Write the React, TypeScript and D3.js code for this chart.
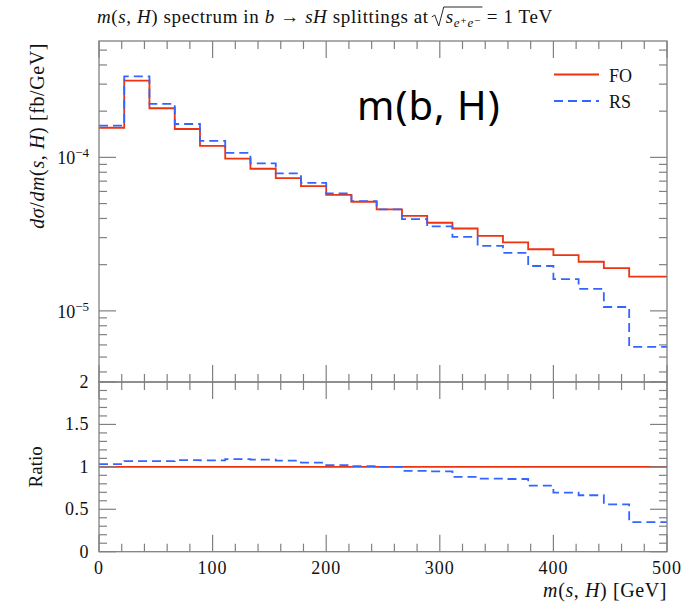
import React, { useLayoutEffect, useRef, useState } from 'react';
import * as d3 from 'd3';

// Histogram bin edges in m(s,H) [GeV]
const binEdges = [0, 22.2, 44.4, 66.7, 88.9, 111.1, 133.3, 155.6, 177.8, 200, 222.2, 244.4, 266.7, 288.9, 311.1, 333.3, 355.6, 377.8, 400, 422.2, 444.4, 466.7, 500];

// dσ/dm(s,H) [fb/GeV], fixed order
const foValues = [1.56e-4, 3.16e-4, 2.09e-4, 1.53e-4, 1.19e-4, 9.8e-5, 8.43e-5, 7.33e-5, 6.5e-5, 5.7e-5, 5.14e-5, 4.58e-5, 4.16e-5, 3.75e-5, 3.44e-5, 3.08e-5, 2.79e-5, 2.52e-5, 2.31e-5, 2.09e-5, 1.9e-5, 1.67e-5];

// dσ/dm(s,H) [fb/GeV], resummed
const rsValues = [1.61e-4, 3.37e-4, 2.23e-4, 1.65e-4, 1.28e-4, 1.07e-4, 9.14e-5, 7.86e-5, 6.83e-5, 5.82e-5, 5.19e-5, 4.58e-5, 3.96e-5, 3.55e-5, 3.03e-5, 2.65e-5, 2.39e-5, 1.96e-5, 1.61e-5, 1.39e-5, 1.06e-5, 5.82e-6];

const xMajorTicks = [0, 100, 200, 300, 400, 500];
const ratioMajorTicks = [0, 0.5, 1, 1.5, 2];
const ratioTickLabels = ['0', '0.5', '1', '1.5', '2'];
const logMajorLabels = [{ v: 1e-4, exp: '−4' }, { v: 1e-5, exp: '−5' }];

const RED = '#ee3311';
const BLUE = '#3366ff';
const FRAME = '#808080';
const SERIF = '"Liberation Serif", "DejaVu Serif", serif';

const L = 99, R = 667;
const MAIN_TOP = 41, MAIN_BOT = 382;
const RAT_TOP = 382, RAT_BOT = 551.7;

export default function App() {
  const x = d3.scaleLinear().domain([0, 500]).range([L, R]);
  const y = d3.scaleLog().domain([3.44e-6, 5.73e-4]).range([MAIN_BOT, MAIN_TOP]);
  const r = d3.scaleLinear().domain([0, 2]).range([RAT_BOT, RAT_TOP]);

  const stepPts = (vals: number[]) => {
    const pts: [number, number][] = vals.map((v, i) => [binEdges[i], v]);
    pts.push([binEdges[binEdges.length - 1], vals[vals.length - 1]]);
    return pts;
  };

  const mainLine = d3.line<[number, number]>()
    .x(d => x(d[0])).y(d => y(d[1])).curve(d3.curveStepAfter);
  const ratioLine = d3.line<[number, number]>()
    .x(d => x(d[0])).y(d => r(d[1])).curve(d3.curveStepAfter);

  const foRatio = foValues.map(() => 1);
  const rsRatio = rsValues.map((v, i) => v / foValues[i]);

  const xMinor = d3.range(0, 501, 20).filter(v => !xMajorTicks.includes(v));
  const logTicks = y.ticks(20).filter(v => v >= y.domain()[0] && v <= y.domain()[1]);
  const isDecade = (v: number) => Math.abs(Math.log10(v) - Math.round(Math.log10(v))) < 1e-6;
  const ratioMinor = d3.range(0, 2.001, 0.1).filter(v => !ratioMajorTicks.some(m => Math.abs(m - v) < 1e-6));

  const MAJ = 17, MIN = 8;

  // overline for the square root in the title
  const radRef = useRef<SVGTSpanElement>(null);
  const [rad, setRad] = useState<{ x0: number; x1: number } | null>(null);
  useLayoutEffect(() => {
    if (radRef.current) {
      const b = radRef.current.getBBox();
      setRad({ x0: b.x, x1: b.x + b.width });
    }
  }, []);

  const titleBase = 23;

  const xTicksAt = (yLine: number, dir: number, key: string) => (
    <g key={key} stroke={FRAME} strokeWidth={1.2}>
      {xMajorTicks.map(v => (
        <line key={'M' + v} x1={x(v)} x2={x(v)} y1={yLine} y2={yLine + dir * MAJ} />
      ))}
      {xMinor.map(v => (
        <line key={'m' + v} x1={x(v)} x2={x(v)} y1={yLine} y2={yLine + dir * MIN} />
      ))}
    </g>
  );

  return (
    <svg width={681} height={606} style={{ position: 'absolute', left: 0, top: 0, background: '#fff' }}
      fontFamily={SERIF}>
      {/* title */}
      <text x={97} y={titleBase} fontSize={19} letterSpacing={0.6} fill="#111">
        <tspan fontStyle="italic">m</tspan>(<tspan fontStyle="italic">s</tspan>, <tspan fontStyle="italic">H</tspan>) spectrum in <tspan fontStyle="italic">b</tspan> → <tspan fontStyle="italic">sH</tspan> splittings at
        <tspan dx={17} ref={radRef}><tspan fontStyle="italic">s</tspan><tspan dy={4} fontSize={13} fontStyle="italic">e⁺e⁻</tspan></tspan>
        <tspan dy={-4}> = 1 TeV</tspan>
      </text>
      {rad && (
        <path
          d={`M${rad.x0 - 14},${titleBase - 6} L${rad.x0 - 11},${titleBase - 8} L${rad.x0 - 7},${titleBase + 3} L${rad.x0 - 2},${titleBase - 16} L${rad.x1 + 1},${titleBase - 16}`}
          fill="none" stroke="#111" strokeWidth={0.9} />
      )}

      {/* main panel data */}
      <path d={mainLine(stepPts(foValues)) || ''} fill="none" stroke={RED} strokeWidth={1.8} />
      <path d={mainLine(stepPts(rsValues)) || ''} fill="none" stroke={BLUE} strokeWidth={1.8} strokeDasharray="9 5" />

      {/* ratio panel data */}
      <path d={ratioLine(stepPts(foRatio)) || ''} fill="none" stroke={RED} strokeWidth={1.8} />
      <path d={ratioLine(stepPts(rsRatio)) || ''} fill="none" stroke={BLUE} strokeWidth={1.8} strokeDasharray="9 5" />

      {/* frames */}
      <rect x={L} y={MAIN_TOP} width={R - L} height={MAIN_BOT - MAIN_TOP} fill="none" stroke={FRAME} strokeWidth={1.3} />
      <rect x={L} y={RAT_TOP} width={R - L} height={RAT_BOT - RAT_TOP} fill="none" stroke={FRAME} strokeWidth={1.3} />

      {/* x ticks */}
      {xTicksAt(MAIN_TOP, 1, 't1')}
      {xTicksAt(MAIN_BOT, -1, 't2')}
      {xTicksAt(RAT_TOP, 1, 't3')}
      {xTicksAt(RAT_BOT, -1, 't4')}

      {/* log y ticks */}
      <g stroke={FRAME} strokeWidth={1.2}>
        {logTicks.map(v => {
          const len = isDecade(v) ? MAJ : MIN;
          return (
            <g key={v}>
              <line x1={L} x2={L + len} y1={y(v)} y2={y(v)} />
              <line x1={R} x2={R - len} y1={y(v)} y2={y(v)} />
            </g>
          );
        })}
      </g>
      {logMajorLabels.map(t => (
        <text key={t.v} x={89} y={y(t.v) + 7} textAnchor="end" fontSize={18} fill="#111">
          10<tspan dy={-7} fontSize={13}>{t.exp}</tspan>
        </text>
      ))}

      {/* ratio y ticks */}
      <g stroke={FRAME} strokeWidth={1.2}>
        {ratioMajorTicks.map(v => (
          <g key={'M' + v}>
            <line x1={L} x2={L + MAJ} y1={r(v)} y2={r(v)} />
            <line x1={R} x2={R - MAJ} y1={r(v)} y2={r(v)} />
          </g>
        ))}
        {ratioMinor.map(v => (
          <g key={'m' + v}>
            <line x1={L} x2={L + MIN} y1={r(v)} y2={r(v)} />
            <line x1={R} x2={R - MIN} y1={r(v)} y2={r(v)} />
          </g>
        ))}
      </g>
      {ratioMajorTicks.map((v, i) => (
        <text key={v} x={89} y={r(v) + 6} textAnchor="end" fontSize={18} letterSpacing={0.5} fill="#111">{ratioTickLabels[i]}</text>
      ))}

      {/* x tick labels */}
      {xMajorTicks.map(v => (
        <text key={v} x={x(v)} y={574} textAnchor="middle" fontSize={18} letterSpacing={1} fill="#111">{v}</text>
      ))}

      {/* axis titles */}
      <text x={R} y={597} textAnchor="end" fontSize={20} letterSpacing={0.6} fill="#111">
        <tspan fontStyle="italic">m</tspan>(<tspan fontStyle="italic">s</tspan>, <tspan fontStyle="italic">H</tspan>) [GeV]
      </text>
      <text transform="translate(44,43) rotate(-90)" textAnchor="end" fontSize={20} letterSpacing={0.6} fill="#111">
        <tspan fontStyle="italic">dσ</tspan>/<tspan fontStyle="italic">dm</tspan>(<tspan fontStyle="italic">s</tspan>, <tspan fontStyle="italic">H</tspan>) [fb/GeV]
      </text>
      <text transform={`translate(42,${r(1)}) rotate(-90)`} textAnchor="middle" fontSize={19} fill="#111">Ratio</text>

      {/* legend */}
      <line x1={554} x2={599} y1={74.5} y2={74.5} stroke={RED} strokeWidth={1.8} />
      <text x={609} y={82} fontSize={18} fill="#111">FO</text>
      <line x1={554} x2={599} y1={101} y2={101} stroke={BLUE} strokeWidth={1.8} strokeDasharray="9 5" />
      <text x={609} y={108} fontSize={18} fill="#111">RS</text>

      {/* annotation */}
      <text x={357} y={120} fontSize={40} letterSpacing={1} fontFamily='"Noto Sans", "Open Sans", sans-serif' fill="#000">m(b, H)</text>
    </svg>
  );
}
